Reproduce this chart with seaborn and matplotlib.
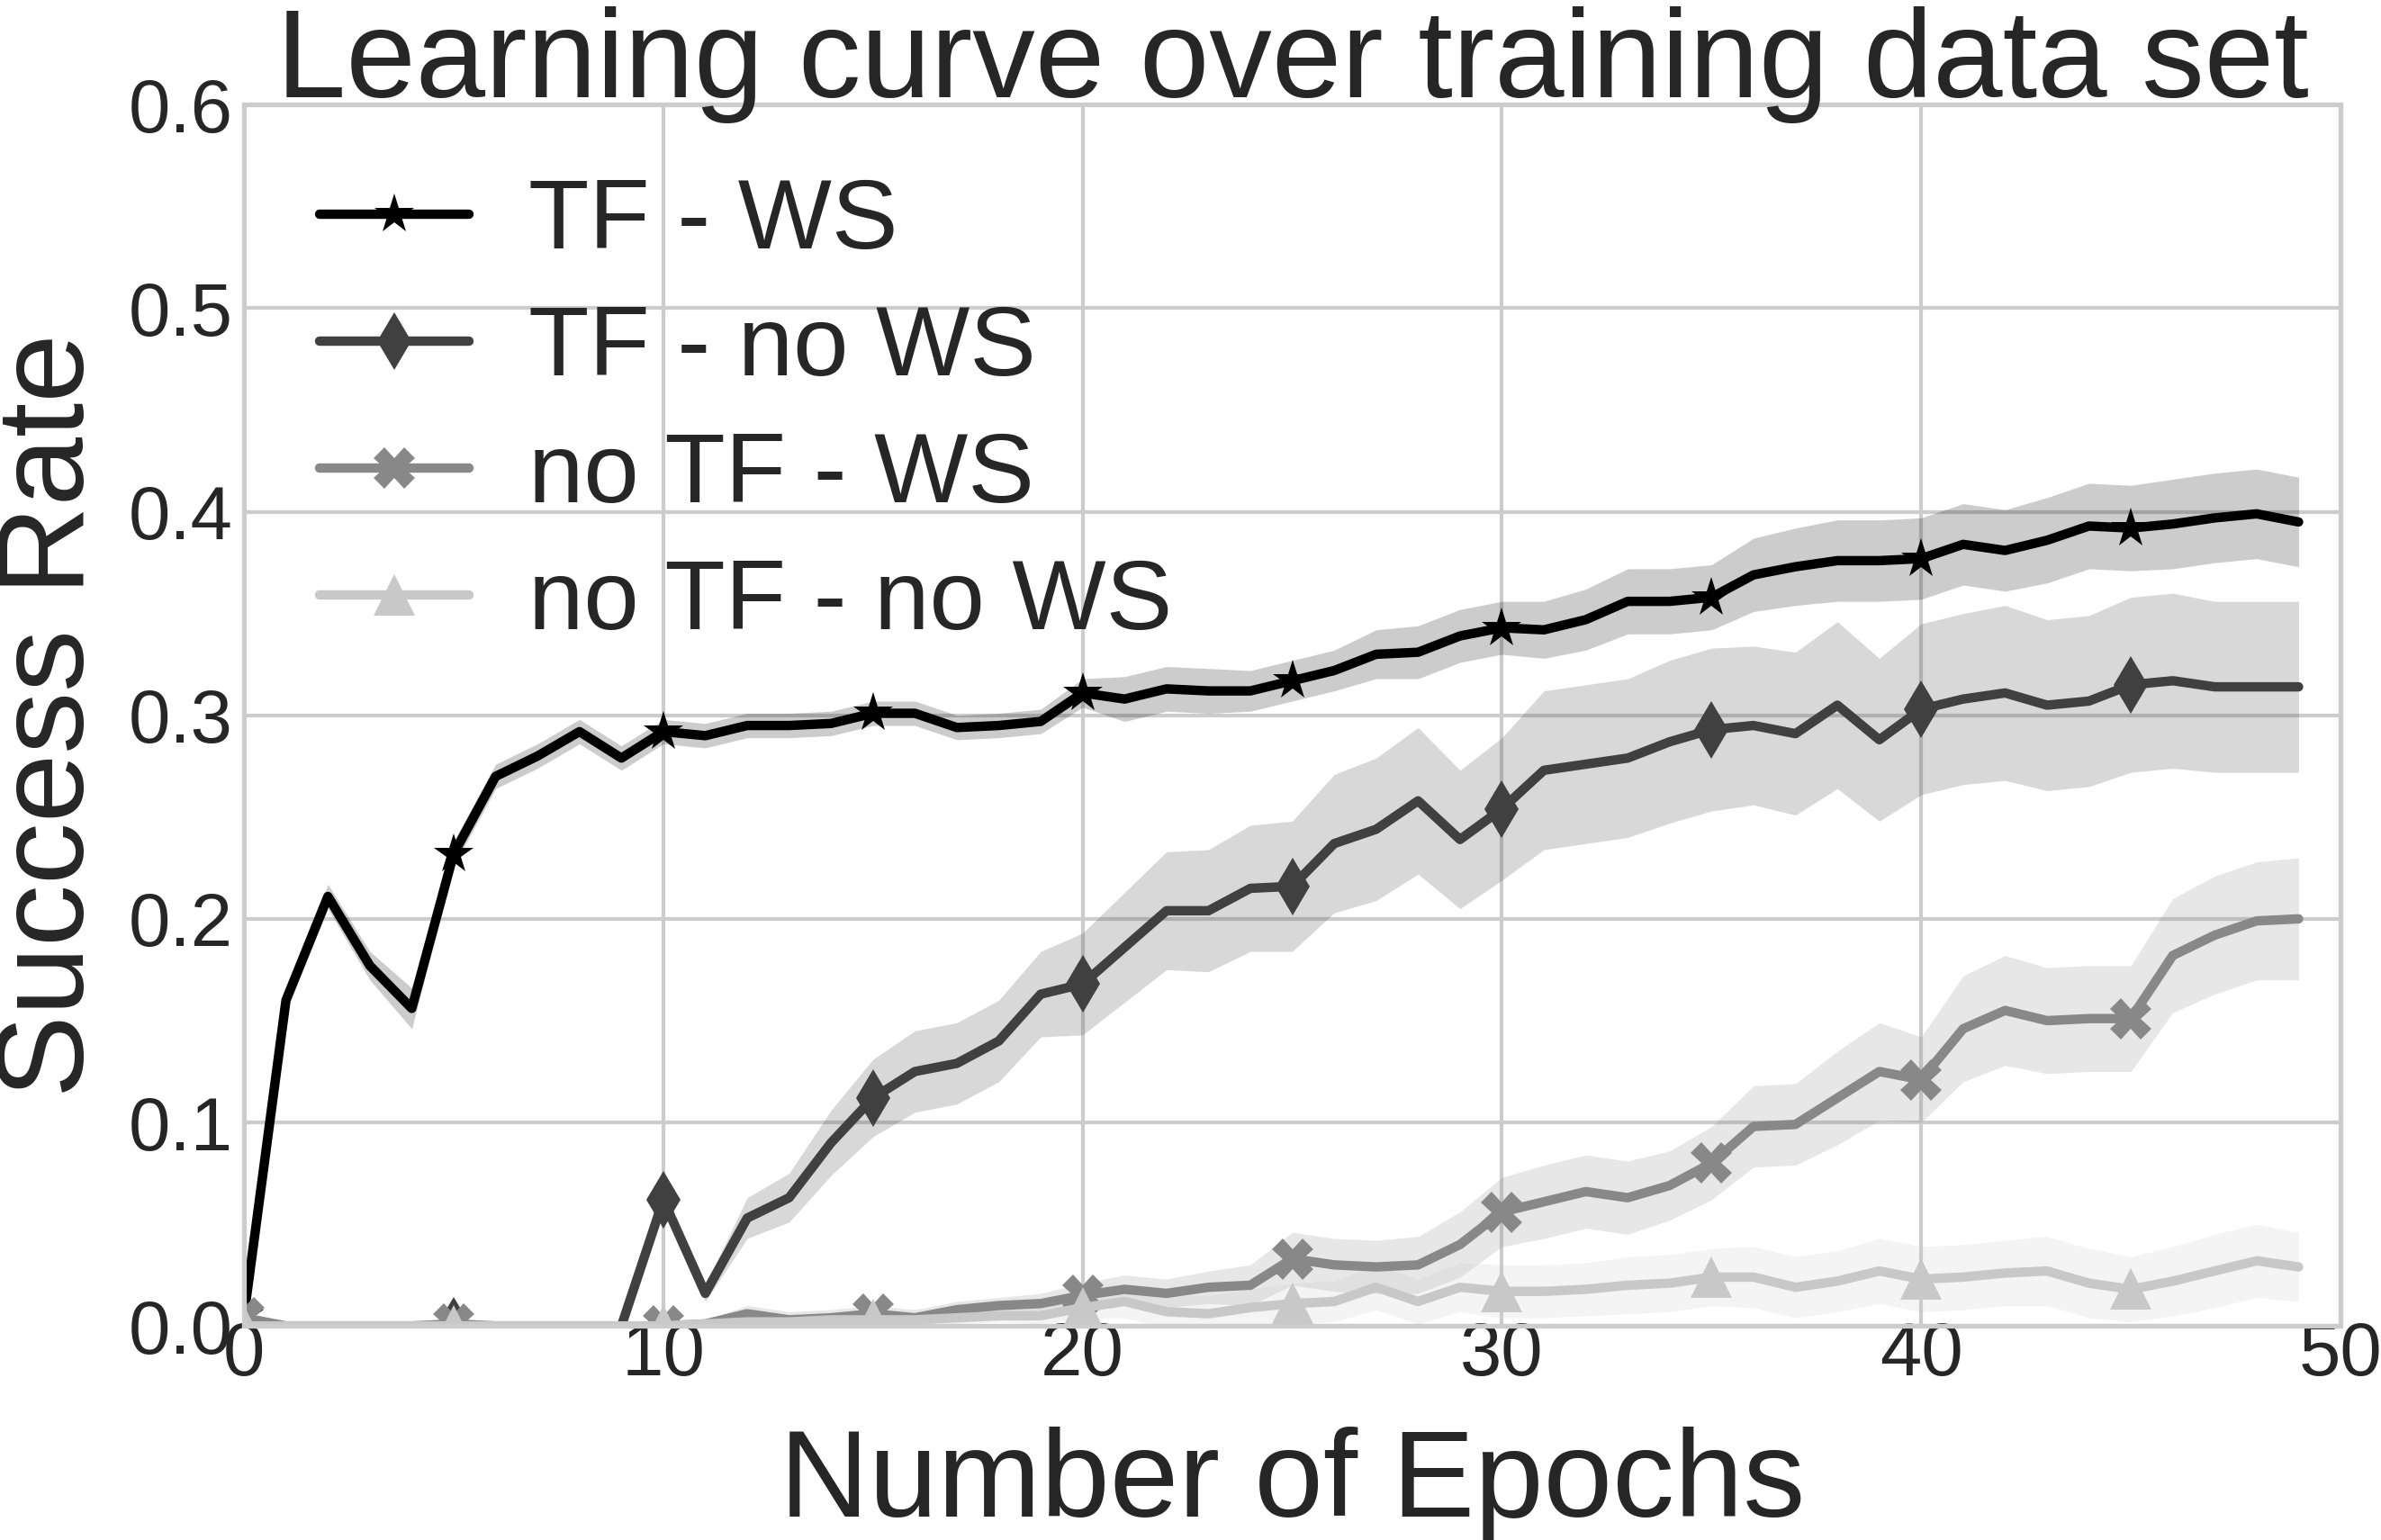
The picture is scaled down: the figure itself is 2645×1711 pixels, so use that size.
import numpy as np
import matplotlib
matplotlib.use("Agg")
import matplotlib.pyplot as plt
import seaborn as sns

epochs = list(range(50))

labels = ["TF - WS", "TF - no WS", "no TF - WS", "no TF - no WS"]

tf_ws = [0.005, 0.160, 0.211, 0.177, 0.156, 0.232, 0.270, 0.280, 0.292, 0.279,
         0.292, 0.290, 0.295, 0.295, 0.296, 0.301, 0.301, 0.294, 0.295, 0.297,
         0.311, 0.308, 0.313, 0.312, 0.312, 0.317, 0.322, 0.330, 0.331, 0.339,
         0.343, 0.342, 0.347, 0.356, 0.356, 0.358, 0.369, 0.373, 0.376, 0.376,
         0.377, 0.384, 0.381, 0.386, 0.393, 0.392, 0.394, 0.397, 0.399, 0.395]
tf_ws_hw = [0.003, 0.005, 0.006, 0.007, 0.010, 0.006, 0.006, 0.006, 0.006, 0.006,
            0.006, 0.006, 0.006, 0.006, 0.006, 0.006, 0.006, 0.006, 0.006, 0.006,
            0.007, 0.011, 0.011, 0.011, 0.010, 0.010, 0.010, 0.012, 0.013, 0.013,
            0.013, 0.014, 0.015, 0.016, 0.016, 0.016, 0.018, 0.019, 0.020, 0.020,
            0.020, 0.020, 0.020, 0.021, 0.021, 0.021, 0.022, 0.022, 0.022, 0.022]

tf_nows = [0.0, 0.0, 0.0, 0.0, 0.0, 0.0, 0.0, 0.0, 0.0, 0.0,
           0.062, 0.016, 0.053, 0.063, 0.090, 0.112, 0.125, 0.129, 0.140, 0.163,
           0.168, 0.186, 0.204, 0.204, 0.215, 0.216, 0.237, 0.244, 0.258, 0.239,
           0.254, 0.273, 0.276, 0.279, 0.287, 0.293, 0.295, 0.291, 0.305, 0.288,
           0.303, 0.308, 0.311, 0.305, 0.307, 0.315, 0.317, 0.314, 0.314, 0.314]
tf_nows_hw = [0.0, 0.0, 0.0, 0.0, 0.0, 0.0, 0.0, 0.0, 0.0, 0.0,
              0.004, 0.004, 0.010, 0.012, 0.016, 0.019, 0.020, 0.020, 0.020, 0.021,
              0.025, 0.027, 0.029, 0.030, 0.031, 0.032, 0.034, 0.035, 0.036, 0.034,
              0.035, 0.039, 0.039, 0.039, 0.040, 0.040, 0.039, 0.040, 0.041, 0.040,
              0.042, 0.042, 0.043, 0.042, 0.042, 0.043, 0.043, 0.042, 0.042, 0.042]

notf_ws = [0.004, 0.0, 0.0, 0.0, 0.0, 0.001, 0.0, 0.0, 0.0, 0.0,
           0.0, 0.001, 0.006, 0.003, 0.004, 0.006, 0.004, 0.008, 0.010, 0.011,
           0.015, 0.018, 0.016, 0.019, 0.020, 0.033, 0.030, 0.029, 0.030, 0.040,
           0.056, 0.061, 0.066, 0.063, 0.069, 0.080, 0.098, 0.099, 0.112, 0.125,
           0.121, 0.146, 0.155, 0.150, 0.151, 0.151, 0.182, 0.192, 0.199, 0.200]
notf_ws_hw = [0.002, 0.0005, 0.0005, 0.0005, 0.0005, 0.0005, 0.0005, 0.0005, 0.0005, 0.0005,
              0.0005, 0.002, 0.004, 0.004, 0.004, 0.004, 0.004, 0.004, 0.004, 0.005,
              0.006, 0.007, 0.007, 0.008, 0.010, 0.013, 0.013, 0.013, 0.014, 0.016,
              0.017, 0.018, 0.018, 0.018, 0.017, 0.018, 0.020, 0.020, 0.023, 0.024,
              0.021, 0.026, 0.027, 0.026, 0.026, 0.026, 0.028, 0.029, 0.029, 0.030]

notf_nows = [0.0, 0.0, 0.0, 0.0, 0.0, 0.0, 0.0, 0.0, 0.0, 0.0,
             0.0, 0.001, 0.002, 0.002, 0.003, 0.003, 0.003, 0.004, 0.005, 0.005,
             0.009, 0.012, 0.007, 0.006, 0.009, 0.011, 0.012, 0.019, 0.012, 0.019,
             0.017, 0.017, 0.018, 0.020, 0.021, 0.024, 0.024, 0.019, 0.022, 0.027,
             0.023, 0.024, 0.026, 0.027, 0.021, 0.018, 0.022, 0.027, 0.032, 0.029]
notf_nows_hw = [0.0005, 0.0005, 0.0005, 0.0005, 0.0005, 0.0005, 0.0005, 0.0005, 0.0005, 0.0005,
                0.0005, 0.003, 0.003, 0.003, 0.003, 0.003, 0.003, 0.003, 0.003, 0.004,
                0.005, 0.008, 0.008, 0.009, 0.009, 0.010, 0.010, 0.011, 0.011, 0.012,
                0.013, 0.013, 0.013, 0.014, 0.014, 0.014, 0.015, 0.015, 0.015, 0.016,
                0.016, 0.016, 0.016, 0.017, 0.017, 0.016, 0.017, 0.018, 0.018, 0.017]

x_ticks = [0, 10, 20, 30, 40, 50]
y_ticks = [0.0, 0.1, 0.2, 0.3, 0.4, 0.5, 0.6]

means = [tf_ws, tf_nows, notf_ws, notf_nows]
hws = [tf_ws_hw, tf_nows_hw, notf_ws_hw, notf_nows_hw]
colors = ["#000000", "#404040", "#888888", "#c8c8c8"]
markers = ["*", "d", "X", "^"]

sns.set_theme(style="whitegrid")
plt.rcParams["font.family"] = ["Liberation Sans", "DejaVu Sans"]

fig, ax = plt.subplots(figsize=(2645 / 300, 1711 / 300), dpi=300)
fig.subplots_adjust(left=0.1025, right=0.983, bottom=0.139, top=0.932)

for m, h, c in zip(means, hws, colors):
    m = np.asarray(m)
    h = np.asarray(h)
    ax.fill_between(epochs, m - h, m + h, color=c, alpha=0.2, linewidth=0)

for lab, m, c, mk in zip(labels, means, colors, markers):
    sns.lineplot(x=epochs, y=m, ax=ax, color=c, marker=mk, markevery=5,
                 markersize=11, markeredgewidth=0, linewidth=2.5, label=lab)

ax.set_xlim(0, 50)
ax.set_ylim(0, 0.6)
ax.set_xticks(x_ticks)
ax.set_yticks(y_ticks)
ax.tick_params(axis="both", length=0, labelsize=20)
ax.tick_params(axis="x", pad=-1.5)
ax.tick_params(axis="y", pad=3)
ax.set_xlabel("Number of Epochs", fontsize=33, labelpad=9.5)
ax.set_ylabel("Success Rate", fontsize=33, labelpad=5)
ax.set_title("Learning curve over training data set", fontsize=33.4, pad=2)

ax.legend(loc="upper left", bbox_to_anchor=(0.0125, 0.981), fontsize=26.5,
          frameon=False, handlelength=1.5, handletextpad=0.6, labelspacing=0.353,
          borderaxespad=0.3, borderpad=0.2)

fig.savefig("out.png", dpi=300)
